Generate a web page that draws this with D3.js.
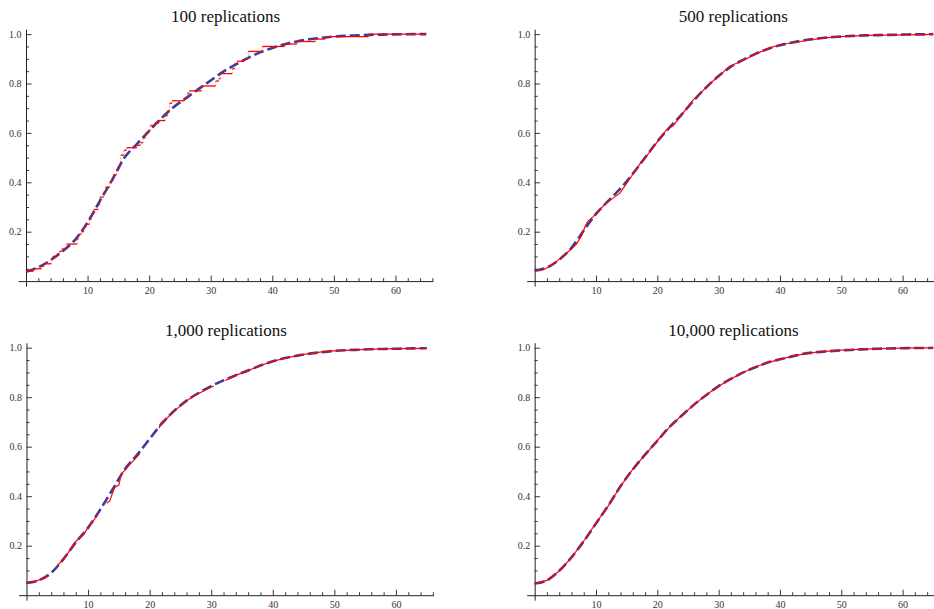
<!DOCTYPE html>
<html>
<head>
<meta charset="utf-8">
<script src="https://cdn.jsdelivr.net/npm/d3@7"></script>
<style>
  html, body { margin: 0; padding: 0; background: #fff; }
  svg { display: block; }
</style>
</head>
<body>
<svg id="chart" width="934" height="609"></svg>
<script>
// Abscissae at which the fitted CDFs are tabulated
const cdfX = [0, 2, 4, 6, 8, 10, 12, 14, 16, 18, 20, 22, 24, 26, 28, 30, 32, 34,
              36, 38, 40, 42, 44, 46, 48, 50, 52, 54, 56, 58, 60, 62, 64, 65];

// Fitted CDF for each number of replications
const fit100   = [0.038, 0.056, 0.085, 0.122, 0.168, 0.238, 0.325, 0.410, 0.500, 0.555, 0.608, 0.660, 0.705, 0.741, 0.777, 0.812, 0.847, 0.876,
                  0.903, 0.926, 0.944, 0.959, 0.970, 0.979, 0.985, 0.990, 0.993, 0.995, 0.997, 0.998, 0.999, 0.9995, 1.000, 1.000];
const fit500   = [0.042, 0.055, 0.087, 0.135, 0.205, 0.272, 0.325, 0.375, 0.435, 0.500, 0.565, 0.622, 0.675, 0.733, 0.785, 0.830, 0.868, 0.896,
                  0.920, 0.940, 0.955, 0.966, 0.975, 0.982, 0.987, 0.990, 0.993, 0.995, 0.996, 0.997, 0.998, 0.999, 0.999, 1.000];
const fit1000  = [0.050, 0.060, 0.090, 0.146, 0.213, 0.273, 0.347, 0.428, 0.510, 0.568, 0.632, 0.694, 0.745, 0.786, 0.818, 0.845, 0.868, 0.889,
                  0.908, 0.928, 0.945, 0.958, 0.968, 0.976, 0.982, 0.987, 0.990, 0.992, 0.994, 0.995, 0.996, 0.997, 0.998, 0.998];
const fit10000 = [0.047, 0.060, 0.099, 0.153, 0.218, 0.290, 0.362, 0.440, 0.508, 0.568, 0.624, 0.680, 0.726, 0.770, 0.809, 0.845, 0.874, 0.900,
                  0.921, 0.940, 0.953, 0.965, 0.976, 0.982, 0.986, 0.989, 0.992, 0.994, 0.996, 0.997, 0.998, 0.999, 0.999, 1.000];

// Empirical CDF, 100 replications (jump points and level after each jump)
const ecdf100X = [0, 1.2, 2.5, 2.9, 4.1, 4.3, 5.0, 5.4, 5.8, 6.6, 8.3, 8.5, 9.0, 9.4, 9.8, 10.3, 10.6, 11.0, 11.7, 12.0,
                  12.6, 12.9, 13.6, 13.9, 14.2, 14.7, 15.1, 15.4, 15.9, 16.3, 18.0, 18.6, 19.0, 19.4, 19.8, 20.2, 20.9, 21.6, 22.6, 23.0,
                  23.3, 23.7, 25.7, 26.2, 26.5, 28.5, 30.8, 31.3, 31.6, 33.5, 33.9, 34.3, 35.4, 36.1, 38.4, 42.0, 44.0, 47.0, 48.6, 55.6, 65];
const ecdf100Y = [0.04, 0.05, 0.06, 0.07, 0.09, 0.10, 0.11, 0.12, 0.13, 0.15, 0.17, 0.19, 0.20, 0.22, 0.23, 0.25, 0.27, 0.29, 0.31, 0.34,
                  0.36, 0.38, 0.40, 0.41, 0.43, 0.45, 0.47, 0.51, 0.53, 0.54, 0.55, 0.56, 0.58, 0.60, 0.61, 0.63, 0.64, 0.65, 0.67, 0.69,
                  0.72, 0.73, 0.74, 0.76, 0.77, 0.79, 0.81, 0.82, 0.84, 0.86, 0.88, 0.89, 0.90, 0.93, 0.95, 0.96, 0.97, 0.98, 0.99, 1.00, 1.00];

// Empirical CDF, 500 replications
const ecdf500X = [0, 1.4, 2.5, 4.1, 4.9, 6.0, 6.8, 7.7, 8.2, 8.7, 9.6, 10.4, 11.5, 12.8, 13.9, 15.0, 16.1, 17.4, 18.8, 20.2,
                  21.5, 22.6, 23.7, 24.8, 25.9, 27.0, 28.6, 30.2, 31.8, 33.5, 35.7, 38.1, 40.0, 43.8, 47.0, 49.7, 54.6, 60.0, 65.0];
const ecdf500Y = [0.042, 0.046, 0.060, 0.090, 0.108, 0.130, 0.150, 0.186, 0.220, 0.243, 0.262, 0.283, 0.312, 0.336, 0.356, 0.396, 0.436, 0.483, 0.523, 0.571,
                  0.612, 0.630, 0.664, 0.700, 0.735, 0.760, 0.800, 0.834, 0.870, 0.888, 0.915, 0.942, 0.957, 0.972, 0.984, 0.990, 0.995, 0.997, 0.999];

// Empirical CDF, 1,000 replications (null = no trace drawn there)
const ecdf1000X = [0, 1.5, 3.0, 3.6, 4.2, 5.0, 6.0, 7.0, 7.8, 8.5, 9.2, 10.3, 11.0, 11.6, 12.3, 13.0, 13.5, 14.3, 15.0, 15.4,
                   16.0, 16.8, 17.6, 18.4, 20.0, 21.5, 21.9, 22.8, 24.0, 25.0, 26.0, 27.0, 28.2, 29.0, 30.4, 31.3, 32.3, 34.0, 36.0, 38.0,
                   40.0, 42.0, 44.0, 46.0, 48.0, 50.0, 55.0, 60.0, 65.0];
const ecdf1000Y = [0.050, 0.056, 0.072, 0.080, null, 0.120, 0.145, 0.180, 0.212, 0.228, 0.243, 0.284, 0.305, 0.325, null, 0.372, 0.380, 0.435, 0.445, 0.490,
                   0.505, 0.530, 0.550, 0.572, null, 0.675, 0.698, 0.715, 0.745, 0.764, 0.786, 0.802, 0.818, 0.828, 0.845, null, 0.868, 0.888, 0.908, 0.928,
                   0.945, 0.958, 0.968, 0.977, 0.983, 0.987, 0.993, 0.996, 0.997];

// Empirical CDF, 10,000 replications (tabulated at cdfX)
const ecdf10000Y = [0.047, 0.060, 0.098, 0.152, 0.219, 0.291, 0.361, 0.440, 0.509, 0.567, 0.625, 0.679, 0.727, 0.770, 0.810, 0.844, 0.874, 0.900,
                    0.922, 0.940, 0.953, 0.966, 0.975, 0.982, 0.986, 0.990, 0.992, 0.994, 0.996, 0.997, 0.998, 0.999, 0.999, 1.000];

const titles = ["100 replications", "500 replications", "1,000 replications", "10,000 replications"];

const xMajorTicks = [10, 20, 30, 40, 50, 60];
const xMinorTicks = [2, 4, 6, 8, 12, 14, 16, 18, 22, 24, 26, 28, 32, 34, 36, 38, 42, 44, 46, 48, 52, 54, 56, 58, 62, 64, 66];
const yMajorTicks = [0.2, 0.4, 0.6, 0.8, 1.0];
const yMinorTicks = [0.05, 0.1, 0.15, 0.25, 0.3, 0.35, 0.45, 0.5, 0.55, 0.65, 0.7, 0.75, 0.85, 0.9, 0.95];

const xDomain = [-1.3, 66.1];
const yDomain = [-0.02, 1.02];

const BLUE = "#3d3d99";
const RED = "#ff0000";
const FONT = "'Liberation Serif', 'Times New Roman', serif";

const zip = (xs, ys) => xs.map((v, i) => ({ x: v, y: ys[i] }));

const panels = [
  { title: titles[0], fit: zip(cdfX, fit100),   emp: zip(ecdf100X, ecdf100Y),    step: true,  xr: [18, 433],    y0: 281.1, y1: 34.1,  ty: 22 },
  { title: titles[1], fit: zip(cdfX, fit500),   emp: zip(ecdf500X, ecdf500Y),    step: false, xr: [526.7, 940], y0: 281.1, y1: 34.1,  ty: 22 },
  { title: titles[2], fit: zip(cdfX, fit1000),  emp: zip(ecdf1000X, ecdf1000Y),  step: false, xr: [18.5, 433.5], y0: 595.2, y1: 347.7, ty: 336 },
  { title: titles[3], fit: zip(cdfX, fit10000), emp: zip(cdfX, ecdf10000Y),      step: false, xr: [526.7, 940], y0: 595.2, y1: 347.7, ty: 336 }
];

const svg = d3.select("#chart");
svg.append("rect").attr("width", 934).attr("height", 609).attr("fill", "#fff");

panels.forEach(p => {
  const g = svg.append("g");
  const x = d3.scaleLinear().domain(xDomain).range(p.xr);
  const y = d3.scaleLinear().domain([0, 1]).range([p.y0, p.y1]);
  const yAxisScale = d3.scaleLinear().domain(yDomain).range([y(yDomain[0]), y(yDomain[1])]);

  // title
  g.append("text")
    .attr("x", (p.xr[0] + p.xr[1]) / 2)
    .attr("y", p.ty)
    .attr("text-anchor", "middle")
    .attr("font-family", FONT)
    .attr("font-size", 17)
    .attr("fill", "#111")
    .text(p.title);

  // x axis through y = 0
  const xa = g.append("g")
    .attr("transform", `translate(0,${y(0)})`)
    .attr("color", "#222")
    .call(d3.axisBottom(x).tickValues(xMajorTicks).tickSizeInner(-5.5).tickSizeOuter(0)
      .tickPadding(6).tickFormat(d3.format("d")));
  g.append("g")
    .attr("transform", `translate(0,${y(0)})`)
    .attr("color", "#222")
    .call(d3.axisBottom(x).tickValues(xMinorTicks).tickSizeInner(-3).tickSizeOuter(0).tickFormat(""))
    .call(s => s.select(".domain").remove());

  // y axis through x = 0
  const ya = g.append("g")
    .attr("transform", `translate(${x(0)},0)`)
    .attr("color", "#222")
    .call(d3.axisLeft(yAxisScale).tickValues(yMajorTicks).tickSizeInner(-5.5).tickSizeOuter(0)
      .tickPadding(4.5).tickFormat(d3.format(".1f")));
  g.append("g")
    .attr("transform", `translate(${x(0)},0)`)
    .attr("color", "#222")
    .call(d3.axisLeft(yAxisScale).tickValues(yMinorTicks).tickSizeInner(-3).tickSizeOuter(0).tickFormat(""))
    .call(s => s.select(".domain").remove());

  [xa, ya].forEach(a => {
    a.attr("font-family", FONT);
    a.selectAll("text")
      .attr("font-family", FONT).attr("font-size", 10).attr("fill", "#333");
  });
  g.selectAll(".domain").attr("stroke-width", 1);
  g.selectAll(".tick line").attr("stroke-width", 0.9);

  // fitted CDF, dashed blue
  g.append("path")
    .datum(p.fit)
    .attr("fill", "none")
    .attr("stroke", BLUE)
    .attr("stroke-width", 2.6)
    .attr("stroke-dasharray", "10,4")
    .attr("d", d3.line().x(d => x(d.x)).y(d => y(d.y)).curve(d3.curveMonotoneX));

  // empirical CDF, red
  if (p.step) {
    const segs = d3.range(p.emp.length - 1).map(i => ({
      x0: p.emp[i].x, x1: p.emp[i + 1].x, y: p.emp[i].y, yn: p.emp[i + 1].y
    }));
    g.append("g").selectAll("line.rise").data(segs.slice(0, -1)).join("line")
      .attr("x1", d => x(d.x1)).attr("x2", d => x(d.x1))
      .attr("y1", d => y(d.y)).attr("y2", d => y(d.yn))
      .attr("stroke", RED).attr("stroke-opacity", 0.55)
      .attr("stroke-width", 0.9).attr("stroke-dasharray", "1.5,1.5");
    g.append("g").selectAll("line.run").data(segs).join("line")
      .attr("x1", d => x(d.x0)).attr("x2", d => x(d.x1))
      .attr("y1", d => y(d.y)).attr("y2", d => y(d.y))
      .attr("stroke", RED).attr("stroke-width", 1.3);
  } else {
    g.append("path")
      .datum(p.emp)
      .attr("fill", "none")
      .attr("stroke", RED)
      .attr("stroke-width", 1.2)
      .attr("d", d3.line().defined(d => d.y != null).x(d => x(d.x)).y(d => y(d.y)));
  }
});
</script>
</body>
</html>
